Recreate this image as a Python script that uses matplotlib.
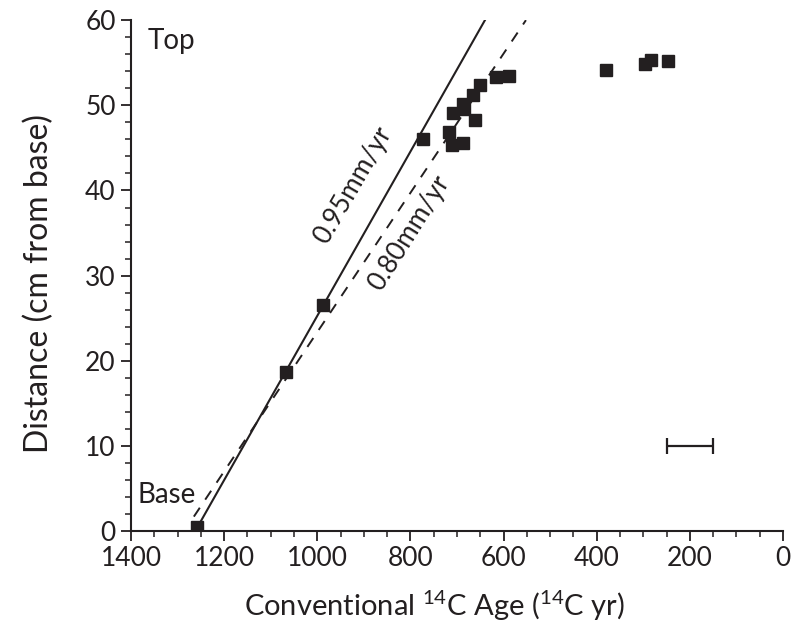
"""Age-depth plot: distance from base vs conventional 14C age."""

import matplotlib

matplotlib.use("Agg")
import matplotlib.pyplot as plt
from matplotlib.ticker import MultipleLocator

plt.rcParams["font.family"] = ["Lato", "DejaVu Sans"]
plt.rcParams["mathtext.fontset"] = "custom"
plt.rcParams["mathtext.rm"] = "Lato"

INK = "#231f20"

# dated samples (14C yr, cm from base)
ages = [1258, 1067, 988, 772, 717, 711, 688, 708, 687, 686, 665, 651, 661,
        616, 588, 380, 296, 284, 246]
depths = [0.5, 18.7, 26.5, 46.0, 46.9, 45.3, 45.6, 49.1, 50.2, 49.6, 51.2,
          52.4, 48.3, 53.3, 53.5, 54.2, 54.8, 55.3, 55.2]

# accumulation-rate lines
fast_age = [1260, 640]
fast_depth = [0.2, 60]
slow_age = [1265, 552]
slow_depth = [1.7, 60]

# typical analytical uncertainty
err_age, err_depth, err_half = 200, 10, 50

fig = plt.figure(figsize=(7.91, 6.30), dpi=100)
ax = fig.add_axes([0.1656, 0.157, 0.8243, 0.811])

ax.plot(fast_age, fast_depth, color=INK, lw=1.5)
ax.plot(slow_age, slow_depth, color=INK, lw=1.4, dashes=(5.5, 5))
ax.plot(ages, depths, "s", color=INK, ms=8.5, mec=INK, zorder=3)
ax.errorbar([err_age], [err_depth], xerr=[err_half], fmt="none",
            ecolor=INK, elinewidth=1.6, capsize=5.5, capthick=1.6)

ax.text(923, 40.6, "0.95mm/yr", rotation=60, fontsize=19, color=INK,
        ha="center", va="center", rotation_mode="anchor")
ax.text(803, 35.0, "0.80mm/yr", rotation=58, fontsize=19, color=INK,
        ha="center", va="center", rotation_mode="anchor")
ax.text(1365, 57.5, "Top", fontsize=20, color=INK, ha="left", va="center")
ax.text(1387, 4.2, "Base", fontsize=20, color=INK, ha="left", va="center")

ax.set_xlim(1400, 0)
ax.set_ylim(0, 60)
ax.xaxis.set_major_locator(MultipleLocator(200))
ax.xaxis.set_minor_locator(MultipleLocator(50))
ax.yaxis.set_major_locator(MultipleLocator(10))
ax.yaxis.set_minor_locator(MultipleLocator(2))

for side in ("top", "right"):
    ax.spines[side].set_visible(False)
for side in ("left", "bottom"):
    ax.spines[side].set_linewidth(1.5)
    ax.spines[side].set_color(INK)
    ax.spines[side].set_zorder(4)

ax.tick_params(which="major", direction="out", length=7, width=1.3,
               color=INK, labelsize=19, labelcolor=INK, pad=4)
ax.tick_params(which="minor", direction="out", length=4, width=1.1, color=INK)

ax.set_xlabel(r"Conventional $^{14}$C Age ($^{14}$C yr)", fontsize=21,
              color=INK)
ax.set_ylabel("Distance (cm from base)", fontsize=23, color=INK)
ax.xaxis.set_label_coords(0.466, -0.112)
ax.yaxis.set_label_coords(-0.118, 0.485)

fig.savefig("out.png", dpi=100)
plt.close(fig)
